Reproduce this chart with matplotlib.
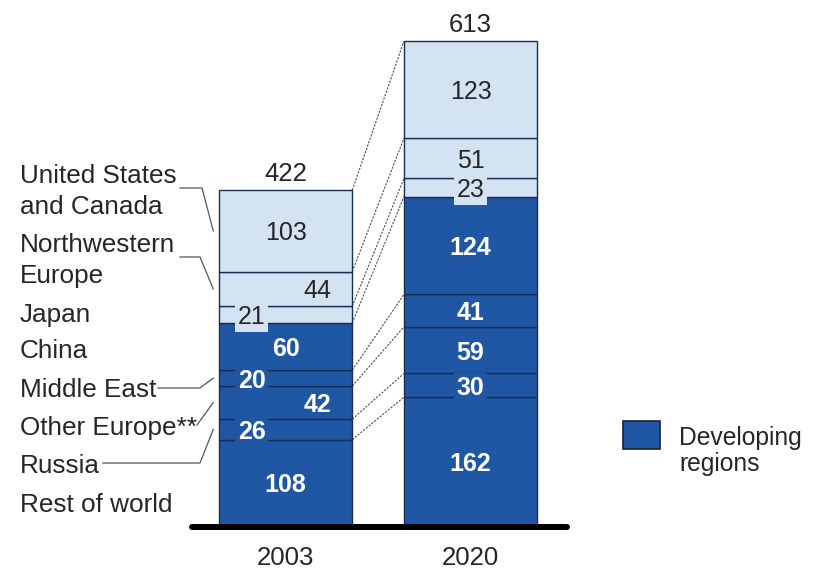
import numpy as np
import matplotlib.pyplot as plt
from matplotlib.patches import Rectangle
from matplotlib.lines import Line2D

# image size in pixels
W, H = 817, 569

years = ['2003', '2020']
totals = [422, 613]
# stacked from the bottom up
regions = ['Rest of world', 'Russia', 'Other Europe**', 'Middle East', 'China',
           'Japan', 'Northwestern\nEurope', 'United States\nand Canada']
v2003 = [108, 26, 42, 20, 60, 21, 44, 103]
v2020 = [162, 30, 59, 41, 124, 23, 51, 123]
developing = [True, True, True, True, True, False, False, False]

DARK = '#2057a5'
LIGHT = '#d4e3f2'
EDGE = '#1c2d4f'
TXT = '#262626'

plt.rcParams['font.family'] = ['Liberation Sans', 'DejaVu Sans']

fig = plt.figure(figsize=(W / 100, H / 100), dpi=100)

def px(x, y):
    # picture pixel (origin top left) -> figure fraction
    return x / W, 1 - y / H

# axes: baseline at y=525 px, 0.7896 px per unit
ax = fig.add_axes([192 / W, (H - 525) / H, 375 / W, 650 * 0.7896 / H])
ax.set_xlim(-0.507, 1.522)
ax.set_ylim(0, 650)

x = np.arange(len(years))
width = 0.72
series = np.array([v2003, v2020])          # shape (year, region)
shifts = [[0, -0.185, 0.17, -0.185, 0, -0.185, 0.17, 0],   # label x offsets
          [0] * 8]

bottom = np.zeros(len(years))
for k, name in enumerate(regions):
    vals = series[:, k]
    col = DARK if developing[k] else LIGHT
    ax.bar(x, vals, width, bottom=bottom, color=col, edgecolor=EDGE,
           linewidth=1.0, zorder=2)
    for i in range(len(years)):
        v = vals[i]
        style = dict(color='white', fontweight='bold') if developing[k] \
            else dict(color=TXT)
        box = dict(boxstyle='square,pad=0.12', fc=col, ec='none') if v < 35 else None
        ax.text(x[i] + shifts[i][k], bottom[i] + v / 2, str(v), ha='center',
                va='center_baseline', fontsize=18, bbox=box, zorder=4, **style)
    bottom = bottom + vals

# dashed connectors between the bars
cums = np.cumsum(series, axis=1)
for k in range(len(regions)):
    ax.plot([x[0] + width / 2, x[1] - width / 2], [cums[0, k], cums[1, k]],
            ls=(0, (2, 1.2)), lw=0.8, color='#505050', zorder=1)

# totals on top
for i in range(len(years)):
    ax.annotate(str(totals[i]), (x[i], cums[i, -1]), xytext=(0, 6.5),
                textcoords='offset points', ha='center', va='baseline',
                fontsize=18.5, color=TXT)

for s in ['top', 'left', 'right']:
    ax.spines[s].set_visible(False)
ax.spines['bottom'].set_linewidth(4.3)
ax.spines['bottom'].set_color('black')
ax.spines['bottom'].set_capstyle('round')
ax.spines['bottom'].set_position(('outward', 1.5))
ax.set_yticks([])
ax.set_xticks(x, years)
ax.tick_params(axis='x', length=0, pad=13.5, labelsize=18.5, labelcolor=TXT)

# region names on the left
name_base = [512, 473, 435, 397, 358, 322, 252, 183]   # first-line baselines, px
for k, name in enumerate(regions):
    for j, line in enumerate(name.split('\n')):
        fig.text(*px(20, name_base[k] + 31 * j), line, ha='left', va='baseline',
                 fontsize=18.8, color=TXT)

# leader lines: start, knee (pixels), end at the bar segment middle
leaders = {7: [(180, 188), (202, 188)],
           6: [(180, 257), (200, 257)],
           3: [(158, 388), (200, 388)],
           2: [(197, 425)],
           1: [(103, 463), (200, 463)]}
mids = np.cumsum(series[0]) - series[0] / 2
inv = fig.transFigure.inverted()
for k, pts in leaders.items():
    end = ax.transData.transform((x[0] - width / 2 - 0.032, mids[k]))
    ex, ey = inv.transform(end)
    xs = [px(*p)[0] for p in pts] + [ex]
    ys = [px(*p)[1] for p in pts] + [ey]
    fig.add_artist(Line2D(xs, ys, color='#555555', lw=0.9))

# legend
lx, ly = px(623, 449)
fig.add_artist(Rectangle((lx, ly), 37 / W, 28 / H, transform=fig.transFigure,
                         facecolor=DARK, edgecolor='#1a1f33', lw=1.2))
fig.text(*px(679, 445), 'Developing', ha='left', va='baseline', fontsize=17.7, color=TXT)
fig.text(*px(679, 471), 'regions', ha='left', va='baseline', fontsize=17.7, color=TXT)

fig.savefig('out.png', dpi=100)
